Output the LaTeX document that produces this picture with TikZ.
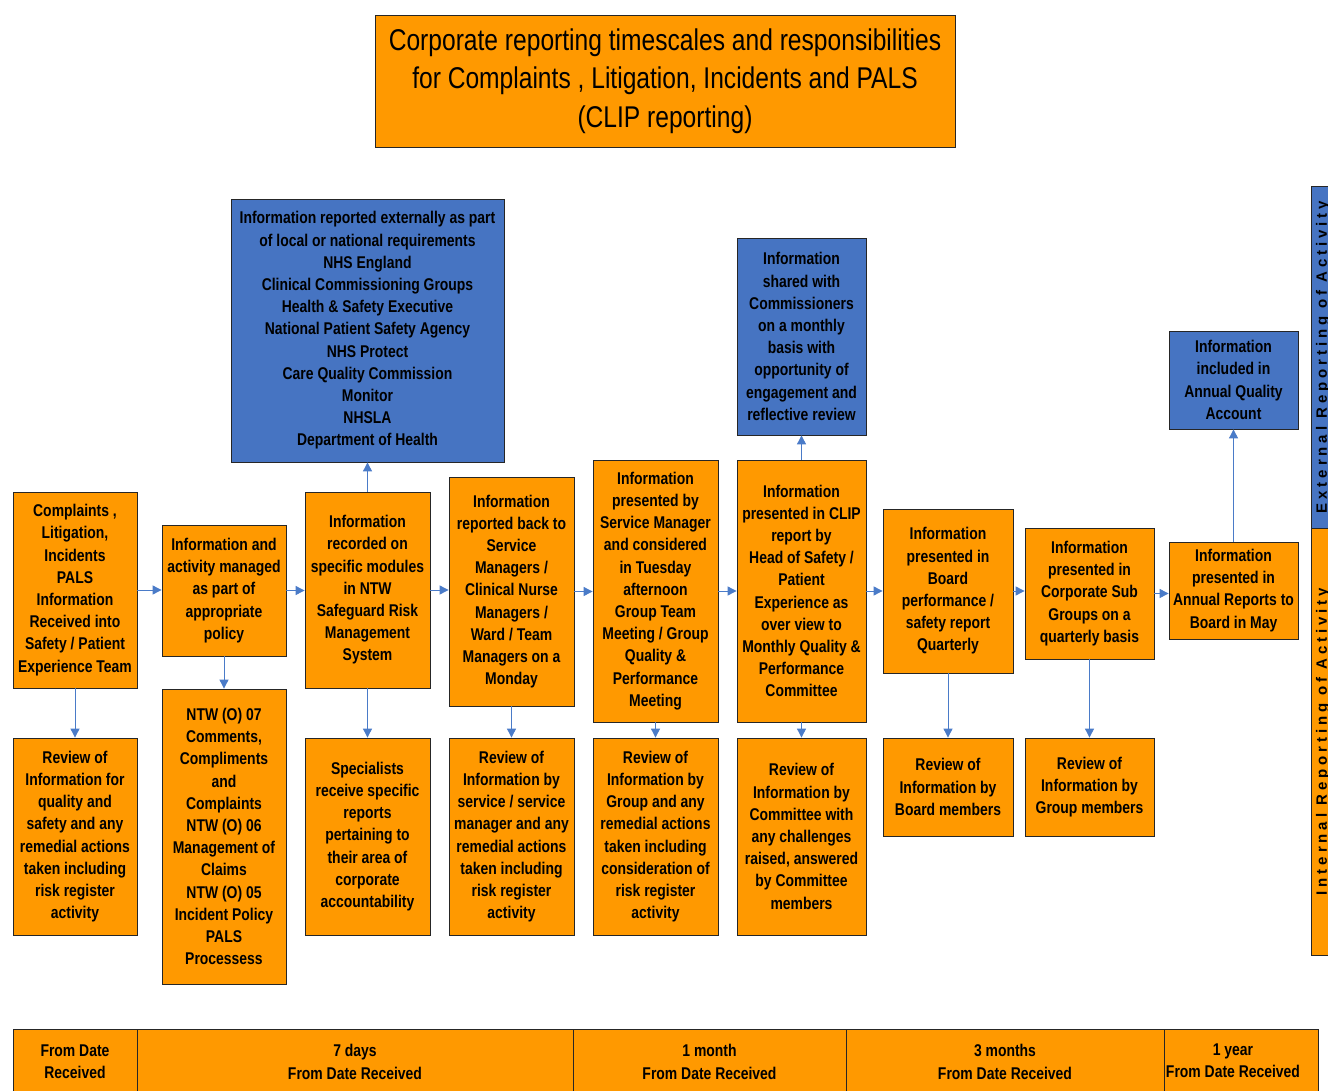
\documentclass[tikz,border=0pt]{standalone}
\usepackage{fontspec}
\setmainfont{Liberation Sans}
\newfontfamily\narrowfont{Liberation Sans}[FakeStretch=0.82]
\newfontfamily\spacedfont{Liberation Sans}[LetterSpace=26]
\usetikzlibrary{arrows.meta}
\definecolor{cliporange}{HTML}{FF9900}
\definecolor{clipblue}{HTML}{4674C2}
\definecolor{arrowblue}{HTML}{4A7BC8}
\tikzset{
  stepbox/.style={draw=black!85, line width=0.8pt, fill=cliporange, align=center, inner sep=0pt,
    font=\narrowfont\bfseries\fontsize{17}{22.2}\selectfont},
  extbox/.style={stepbox, fill=clipblue},
  flow/.style={draw=arrowblue, line width=0.9pt, -{Triangle[width=9pt,length=9pt]}}
}
\begin{document}
\begin{tikzpicture}[x=1pt, y=-1pt]
  \useasboundingbox (0,0) rectangle (1328,1091);

  % Title
  \node[stepbox, font=\narrowfont\fontsize{30}{38.5}\selectfont, minimum width=580, minimum height=132] (title) at (665,81)
    {Corporate reporting timescales and responsibilities\\for Complaints , Litigation, Incidents and PALS\\(CLIP reporting)};

  % Main row
  \begin{scope}[every node/.style={stepbox}]

    \node[minimum width=124, minimum height=196] (recv) at (75,590)
      {Complaints ,\\Litigation,\\Incidents\\PALS\\Information\\Received into\\Safety / Patient\\Experience Team};
    \node[minimum width=124, minimum height=131] (policy) at (224,590.5)
      {Information and\\activity managed\\as part of\\appropriate\\policy};
    \node[minimum width=125, minimum height=196] (safeguard) at (367.5,590)
      {Information\\recorded on\\specific modules\\in NTW\\Safeguard Risk\\Management\\System};
    \node[minimum width=125, minimum height=229] (monday) at (511.5,591.5)
      {Information\\reported back to\\Service\\Managers /\\Clinical Nurse\\Managers /\\Ward / Team\\Managers on a\\Monday};
    \node[minimum width=125, minimum height=262] (tuesday) at (655.5,591)
      {Information\\presented by\\Service Manager\\and considered\\in Tuesday\\afternoon\\Group Team\\Meeting / Group\\Quality \&\\Performance\\Meeting};
    \node[minimum width=129, minimum height=262] (clip) at (801.5,591)
      {Information\\presented in CLIP\\report by\\Head of Safety /\\Patient\\Experience as\\over view to\\Monthly Quality \&\\Performance\\Committee};
    \node[minimum width=130, minimum height=164] (board) at (948,591)
      {Information\\presented in\\Board\\performance /\\safety report\\Quarterly};
    \node[minimum width=129, minimum height=131] (subgroup) at (1089.5,593.5)
      {Information\\presented in\\Corporate Sub\\Groups on a\\quarterly basis};
    \node[minimum width=129, minimum height=97] (annual) at (1233.5,590.5)
      {Information\\presented in\\Annual Reports to\\Board in May};

  \end{scope}

  % External reporting
  \begin{scope}[every node/.style={extbox}]

    \node[minimum width=273, minimum height=263] (national) at (367.5,330.5)
      {Information reported externally as part\\of local or national requirements\\NHS England\\Clinical Commissioning Groups\\Health \& Safety Executive\\National Patient Safety Agency\\NHS Protect\\Care Quality Commission\\Monitor\\NHSLA\\Department of Health};
    \node[minimum width=129, minimum height=197] (commiss) at (801.5,336.5)
      {Information\\shared with\\Commissioners\\on a monthly\\basis with\\opportunity of\\engagement and\\reflective review};
    \node[minimum width=129, minimum height=98] (account) at (1233.5,380)
      {Information\\included in\\Annual Quality\\Account};

  \end{scope}

  % Review row
  \begin{scope}[every node/.style={stepbox}]

    \node[minimum width=124, minimum height=197] (rev1) at (75,836.5)
      {Review of\\Information for\\quality and\\safety and any\\remedial actions\\taken including\\risk register\\activity};
    \node[minimum width=124, minimum height=295] (rev2) at (224,836.5)
      {NTW (O) 07\\Comments,\\Compliments\\and\\Complaints\\NTW (O) 06\\Management of\\Claims\\NTW (O) 05\\Incident Policy\\PALS\\Processess};
    \node[minimum width=125, minimum height=197] (rev3) at (367.5,836.5)
      {Specialists\\receive specific\\reports\\pertaining to\\their area of\\corporate\\accountability};
    \node[minimum width=125, minimum height=197] (rev4) at (511.5,836.5)
      {Review of\\Information by\\service / service\\manager and any\\remedial actions\\taken including\\risk register\\activity};
    \node[minimum width=125, minimum height=197] (rev5) at (655.5,836.5)
      {Review of\\Information by\\Group and any\\remedial actions\\taken including\\consideration of\\risk register\\activity};
    \node[minimum width=129, minimum height=197] (rev6) at (801.5,836.5)
      {Review of\\Information by\\Committee with\\any challenges\\raised, answered\\by Committee\\members};
    \node[minimum width=130, minimum height=98] (rev7) at (948,787)
      {Review of\\Information by\\Board members};
    \node[minimum width=129, minimum height=98] (rev8) at (1089.5,787)
      {Review of\\Information by\\Group members};

  \end{scope}

  % Timescales
  \begin{scope}[every node/.style={stepbox, line width=0.5pt, minimum height=66}]

    \node[minimum width=124] (t0) at (75,1062) {From Date\\Received};
    \node[minimum width=436] (t7d) at (355,1062) {7 days\\From Date Received};
    \node[minimum width=273] (t1m) at (709.5,1062) {1 month\\From Date Received};
    \node[minimum width=318] (t3m) at (1005,1062) {3 months\\From Date Received};
    \node[minimum width=154] (t1y) at (1241,1062)
      {\raisebox{-2.5pt}{\begin{tabular}{@{}c@{}}1 year\\[-1pt]From Date Received\end{tabular}}\hspace*{16pt}};

  \end{scope}

  % Side bars
  \node[stepbox, fill=clipblue, minimum width=342, minimum height=24, rotate=90,
        font=\spacedfont\bfseries\fontsize{15}{17}\selectfont] (extbar) at (1323,357) {External Reporting of Activity};
  \node[stepbox, minimum width=427, minimum height=24, rotate=90,
        font=\spacedfont\bfseries\fontsize{15}{17}\selectfont] (intbar) at (1323,741.5) {Internal Reporting of Activity};

  % Along
  \draw[flow] (recv.east) -- (policy.west |- recv.east);
  \draw[flow] (policy.east) -- (safeguard.west |- policy.east);
  \draw[flow] (safeguard.east) -- (monday.west |- safeguard.east);
  \draw[flow] (monday.east) -- (tuesday.west |- monday.east);
  \draw[flow] (tuesday.east) -- (clip.west |- tuesday.east);
  \draw[flow] (clip.east) -- (board.west |- clip.east);
  \draw[flow] (board.east) -- (subgroup.west |- board.east);
  \draw[flow] (subgroup.east) -- (annual.west |- subgroup.east);

  % Down
  \draw[flow] (recv) -- (rev1);
  \draw[flow] (policy) -- (rev2);
  \draw[flow] (safeguard) -- (rev3);
  \draw[flow] (monday) -- (rev4);
  \draw[flow] (tuesday) -- (rev5);
  \draw[flow] (clip) -- (rev6);
  \draw[flow] (board) -- (rev7);
  \draw[flow] (subgroup) -- (rev8);

  % Up
  \draw[flow] (safeguard) -- (national);
  \draw[flow] (clip) -- (commiss);
  \draw[flow] (annual) -- (account);
\end{tikzpicture}
\end{document}
